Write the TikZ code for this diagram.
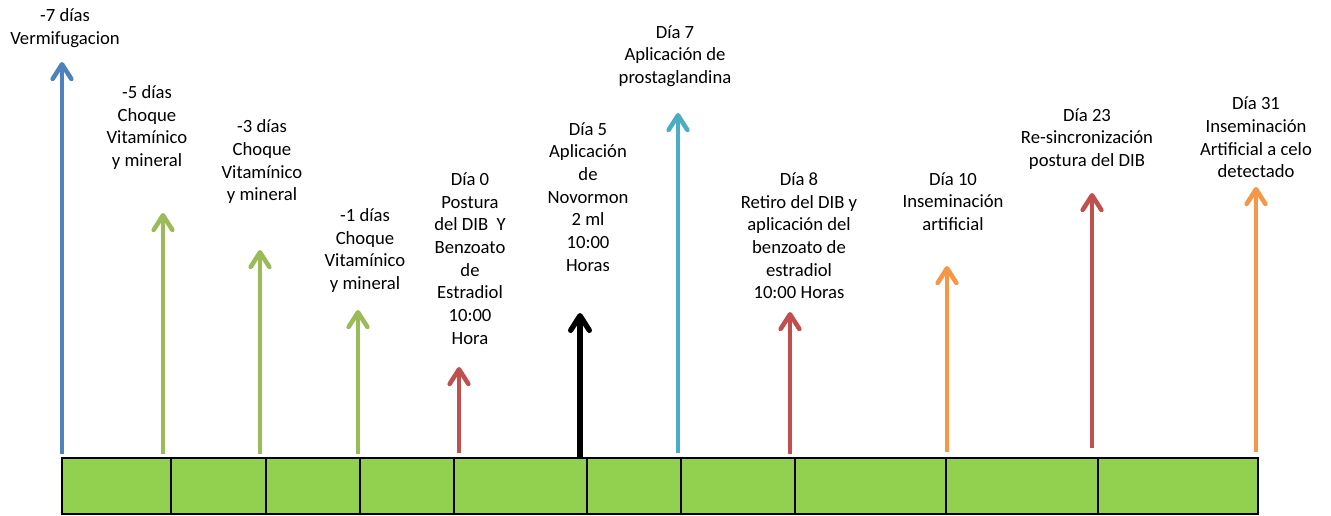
\documentclass[tikz,border=0pt]{standalone}
\usepackage{fontspec}
\setmainfont{Carlito}
\usetikzlibrary{arrows.meta}

\definecolor{cblue}{HTML}{4F81BD}
\definecolor{cgreen}{HTML}{9BBB59}
\definecolor{cred}{HTML}{C0504D}
\definecolor{ccyan}{HTML}{4BACC6}
\definecolor{corange}{HTML}{F79646}
\definecolor{cbar}{HTML}{92D050}

\begin{document}
\begin{tikzpicture}[x=0.75pt, y=-0.75pt,
    lbl/.style={align=center, font=\fontsize{14}{17}\selectfont},
    evt/.style={line width=3.4pt, -{Straight Barb[length=11pt, width=14pt, line cap=round, line join=round]}}]
    \useasboundingbox (0,0) rectangle (1331,516);

    % Draw the time bar
    \draw[cbar, fill=cbar] (62,458) rectangle (1258,514);
    \foreach \xd in {171,266,360,454,587,681,795,946,1098}
        \draw[line width=1.6pt] (\xd,458) -- (\xd,514);
    \draw[line width=2pt] (62,458) rectangle (1258,514);

    % Arrow ends
    \coordinate (b1) at (62,454);   \coordinate (t1) at (62,62);
    \coordinate (b2) at (163,454);  \coordinate (t2) at (163,213);
    \coordinate (b3) at (260,454);  \coordinate (t3) at (260,250);
    \coordinate (b4) at (358,454);  \coordinate (t4) at (358,310);
    \coordinate (b5) at (459,453);  \coordinate (t5) at (459,367);
    \coordinate (b6) at (580,457);  \coordinate (t6) at (580,313);
    \coordinate (b7) at (678,453);  \coordinate (t7) at (678,113);
    \coordinate (b8) at (790,454);  \coordinate (t8) at (790,312);
    \coordinate (b9) at (947,452);  \coordinate (t9) at (947,266);
    \coordinate (b10) at (1092,448); \coordinate (t10) at (1092,193);
    \coordinate (b11) at (1256,452); \coordinate (t11) at (1256,187);

    % Draw the arrows
    \draw[evt, cblue] (b1) -- (t1);
    \draw[evt, cgreen] (b2) -- (t2);
    \draw[evt, cgreen] (b3) -- (t3);
    \draw[evt, cgreen] (b4) -- (t4);
    \draw[evt, cred] (b5) -- (t5);
    \draw[evt, black, line width=4pt] (b6) -- (t6);
    \draw[evt, ccyan] (b7) -- (t7);
    \draw[evt, cred] (b8) -- (t8);
    \draw[evt, corange] (b9) -- (t9);
    \draw[evt, cred] (b10) -- (t10);
    \draw[evt, corange] (b11) -- (t11);

    % Labels
    \node[lbl] (vermi) at (65,28) {-7 días\\Vermifugacion};
    \node[lbl] (choque5) at (147,127.5) {-5 días\\Choque\\Vitamínico\\y mineral};
    \node[lbl] (choque3) at (262,162) {-3 días\\Choque\\Vitamínico\\y mineral};
    \node[lbl] (choque1) at (365,250.5) {-1 días\\Choque\\Vitamínico\\y mineral};
    \node[lbl] (dia0) at (470,258.5) {Día 0\\Postura\\del DIB\ \ Y\\Benzoato\\de\\Estradiol\\10:00\\Hora};
    \node[lbl] (dia5) at (588,197) {Día 5\\Aplicación\\de\\Novormon\\2 ml\\10:00\\Horas};
    \node[lbl] (dia7) at (675,56) {Día 7\\Aplicación de\\prostaglandina};
    \node[lbl] (dia8) at (799,236) {Día 8\\Retiro del DIB y\\aplicación del\\benzoato de\\estradiol\\10:00 Horas};
    \node[lbl] (dia10) at (953,201.5) {Día 10\\Inseminación\\artificial};
    \node[lbl] (dia23) at (1087,139) {Día 23\\Re-sincronización\\postura del DIB};
    \node[lbl] (dia31) at (1256,137.5) {Día 31\\Inseminación\\Artificial a celo\\detectado};
\end{tikzpicture}
\end{document}
